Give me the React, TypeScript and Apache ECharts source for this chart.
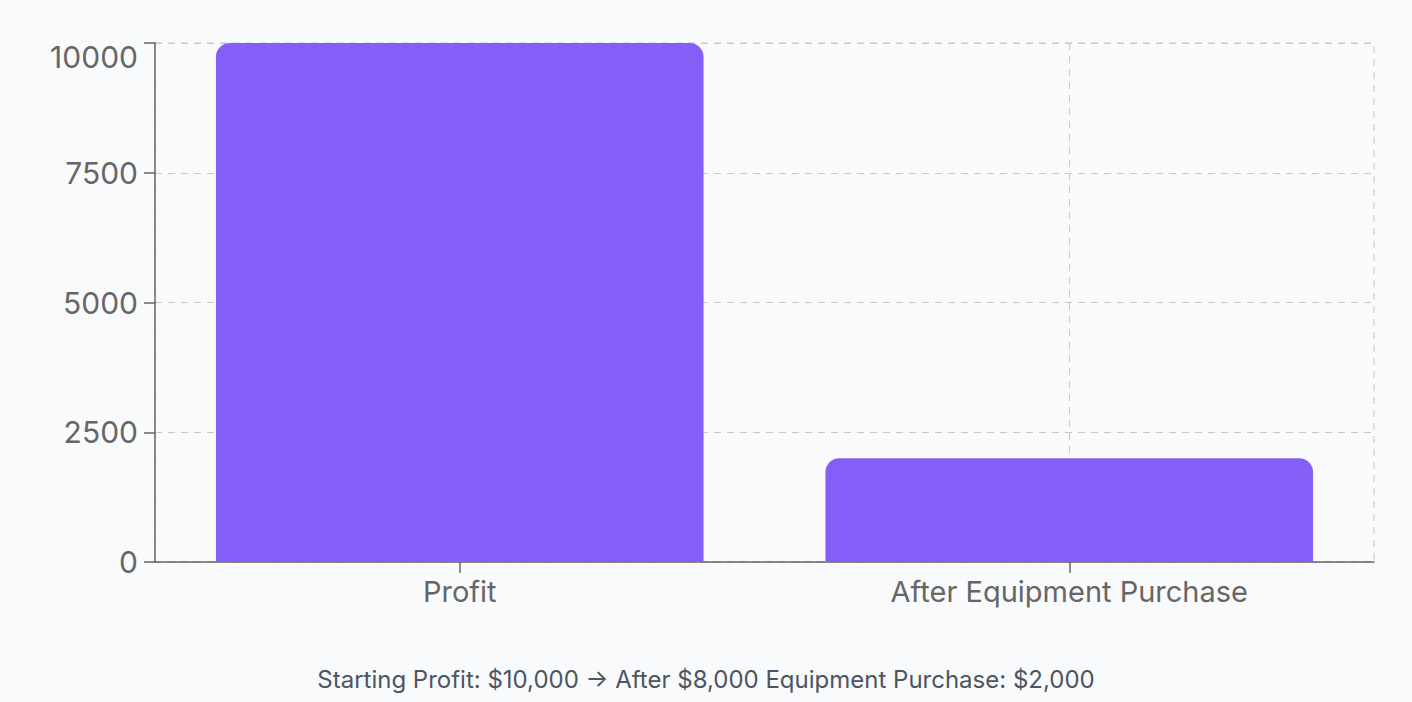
import React, { useEffect, useRef } from "react";
import * as echarts from "echarts";

const categories = ["Profit", "After Equipment Purchase"];
const values = [10000, 2000];
const yTicks = [0, 2500, 5000, 7500, 10000];
const caption = "Starting Profit: $10,000 → After $8,000 Equipment Purchase: $2,000";

const FONT = "Inter, 'Noto Sans', sans-serif";

export default function App() {
  const ref = useRef<HTMLDivElement>(null);
  useEffect(() => {
    if (!ref.current) return;
    const chart = echarts.init(ref.current, undefined, { renderer: "svg" });
    const yMax = yTicks[yTicks.length - 1];
    chart.setOption({
      animation: false,
      backgroundColor: "transparent",
      textStyle: { fontFamily: FONT },
      grid: {
        left: 155,
        right: 38,
        top: 43,
        bottom: 78,
        show: true,
        borderColor: "#c8c8c8",
        borderWidth: 1,
        borderType: [7, 6],
        backgroundColor: "transparent",
      },
      xAxis: {
        type: "category",
        data: categories,
        boundaryGap: true,
        axisLine: { show: true, lineStyle: { color: "#666666", width: 1.5 } },
        axisTick: { show: true, alignWithLabel: true, length: 11, lineStyle: { color: "#666666", width: 1.5 } },
        axisLabel: { color: "#666666", fontSize: 29, margin: 15, fontFamily: FONT },
        splitLine: { show: true, alignWithLabel: true, lineStyle: { color: "#c8c8c8", type: [7, 6], width: 1 } },
      },
      yAxis: {
        type: "value",
        min: 0,
        max: yMax,
        interval: 2500,
        axisLine: { show: true, lineStyle: { color: "#666666", width: 1.5 } },
        axisTick: { show: true, length: 11, lineStyle: { color: "#666666", width: 1.5 } },
        axisLabel: {
          color: "#666666",
          fontSize: 30,
          margin: 17,
          fontFamily: FONT,
          formatter: (v: number) => (v === yMax ? "{t|" + v + "}" : String(v)),
          rich: { t: { padding: [28, 0, 0, 0], fontSize: 30, color: "#666666", fontFamily: FONT } },
        },
        splitLine: { show: true, lineStyle: { color: "#c8c8c8", type: [7, 6], width: 1 } },
      },
      series: [
        {
          type: "bar",
          data: values,
          barWidth: "80%",
          itemStyle: { color: "#845ef7", borderRadius: [14, 14, 0, 0] },
        },
      ],
    });
    return () => chart.dispose();
  }, []);
  return (
    <div style={{ position: "fixed", left: 0, top: 0, width: 1412, height: 702, background: "#f9fafb", margin: 0 }}>
      <div ref={ref} style={{ width: 1412, height: 640 }} />
      <div
        style={{
          position: "absolute",
          left: 0,
          width: 1412,
          top: 665,
          textAlign: "center",
          fontFamily: FONT,
          fontSize: 24,
          lineHeight: "30px",
          color: "#4b5563",
        }}
      >
        {caption}
      </div>
    </div>
  );
}
